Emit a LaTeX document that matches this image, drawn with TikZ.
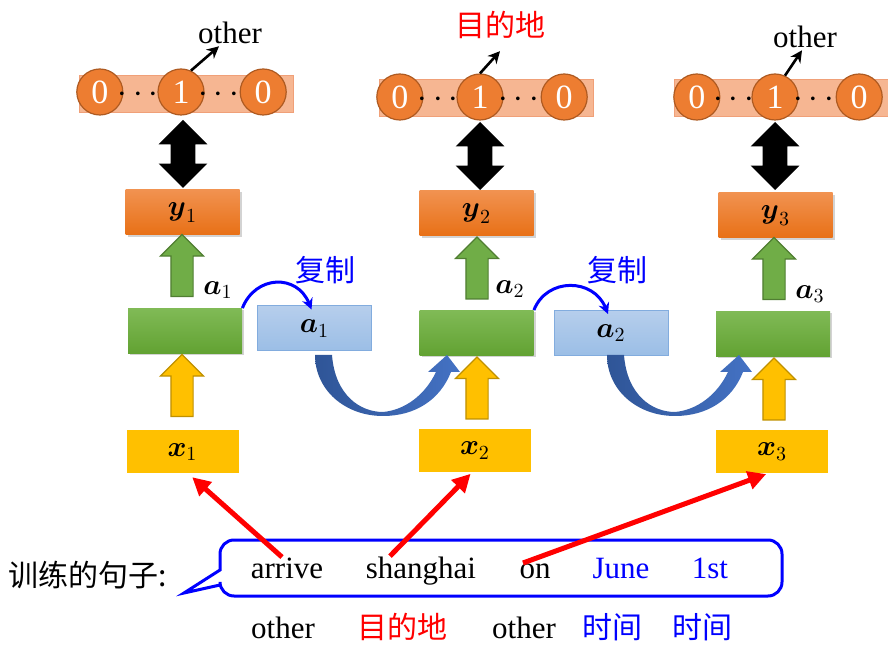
\documentclass[tikz,border=0pt]{standalone}
\usepackage{amsmath}
\usepackage{fontspec}
\setmainfont{Liberation Serif}
\newfontfamily\cjk{Noto Sans CJK SC}
\usepackage{tikz}
\usetikzlibrary{positioning,shapes.arrows,shadows,arrows.meta}

\definecolor{barfill}{RGB}{246,182,146}
\definecolor{barline}{RGB}{240,160,120}
\definecolor{circfill}{RGB}{237,125,49}
\definecolor{circline}{RGB}{174,90,33}
\definecolor{outtop}{RGB}{241,146,80}
\definecolor{outbot}{RGB}{232,112,22}
\definecolor{hidtop}{RGB}{128,186,86}
\definecolor{hidbot}{RGB}{98,162,50}
\definecolor{cptop}{RGB}{182,206,236}
\definecolor{cpbot}{RGB}{155,190,230}
\definecolor{cpline}{RGB}{130,172,222}
\definecolor{infill}{RGB}{255,192,0}
\definecolor{upgreen}{RGB}{112,173,71}
\definecolor{upgreenl}{RGB}{80,126,50}
\definecolor{upyellow}{RGB}{255,192,0}
\definecolor{upyellowl}{RGB}{191,144,0}
\definecolor{curvedark}{RGB}{47,85,151}
\definecolor{curvelight}{RGB}{68,114,196}
\definecolor{wordblue}{RGB}{0,0,255}

\begin{document}
\begin{tikzpicture}[x=0.5pt,y=-0.5pt,
  bar/.style={rectangle, fill=barfill, draw=barline, line width=0.5pt, minimum width=107pt, minimum height=18.5pt, inner sep=0pt},
  onehot/.style={circle, fill=circfill, draw=circline, line width=0.6pt, minimum size=23pt, inner sep=0pt, text=white, font=\fontsize{17}{17}\selectfont},
  dots/.style={inner sep=0pt, font=\fontsize{17.28}{17}\selectfont},
  box/.style={rectangle, minimum width=57pt, minimum height=22.5pt, inner sep=0pt, font=\fontsize{14.4}{15}\selectfont},
  outbox/.style={box, top color=outtop, bottom color=outbot, drop shadow={opacity=0.35, shadow xshift=1pt, shadow yshift=-1pt}},
  hidbox/.style={box, top color=hidtop, bottom color=hidbot, drop shadow={opacity=0.35, shadow xshift=1pt, shadow yshift=-1pt}},
  cpbox/.style={box, top color=cptop, bottom color=cpbot, draw=cpline, line width=0.5pt},
  inbox/.style={box, minimum width=56pt, minimum height=21.5pt, fill=infill},
  uparrow/.style={single arrow, shape border rotate=90, inner sep=5.25pt, single arrow head extend=5.25pt, minimum height=31pt, minimum width=21pt, line width=0.6pt},
  bothway/.style={double arrow, shape border rotate=90, fill=black, inner sep=6pt, double arrow head extend=6pt, minimum height=34pt, minimum width=24pt},
  alabel/.style={inner sep=0pt, font=\fontsize{14.4}{15}\selectfont},
  toplabel/.style={inner sep=1pt, font=\fontsize{15.5}{18}\selectfont},
  word/.style={inner sep=0pt, anchor=base, font=\fontsize{15.5}{18}\selectfont},
  cnword/.style={inner sep=0pt, anchor=base, font=\cjk\fontsize{15}{18}\selectfont},
  pick/.style={-{Stealth[length=6pt,width=6pt]}, line width=1.3pt},
  copyarrow/.style={-{Stealth[length=5.5pt,width=5.5pt]}, wordblue, line width=1.5pt},
  redarrow/.style={-{Triangle[length=9pt,width=9pt]}, red, line width=2.5pt}]
\useasboundingbox (0,0) rectangle (888,651);

% one-hot outputs
\node[bar] (b1) at (186,94.5) {};
\node[bar] (b2) at (486,98.5) {};
\node[bar] (b3) at (781.5,98.5) {};
\node[onehot] (o1) at (181,92) {1};
\node[onehot] (z1) [left=17pt of o1] {0};
\node[onehot] (e1) [right=17.5pt of o1] {0};
\node[onehot] (o2) at (480,97) {1};
\node[onehot] (z2) [left=16.5pt of o2] {0};
\node[onehot] (e2) [right=18.5pt of o2] {0};
\node[onehot] (o3) at (775,97) {1};
\node[onehot] (z3) [left=15.5pt of o3] {0};
\node[onehot] (e3) [right=18.5pt of o3] {0};
\node[dots] (d11) at (141,95) {$\cdots$};
\node[dots] (d12) at (221.5,95) {$\cdots$};
\node[dots] (d21) at (441,100) {$\cdots$};
\node[dots] (d22) at (521.5,100) {$\cdots$};
\node[dots] (d31) at (736.5,100) {$\cdots$};
\node[dots] (d32) at (816.5,100) {$\cdots$};
\node[toplabel] (t1) at (230,33) {other};
\node[toplabel, text=red, font=\cjk\fontsize{15}{18}\selectfont] (t2) at (500,25) {目的地};
\node[toplabel] (t3) at (805,37) {other};
\draw[pick] (o1.65) -- ([xshift=-5.5pt]t1.south);
\draw[pick] (o2.north) -- ([yshift=-5pt]t2.south);
\draw[pick] (o3.65) -- ([xshift=-1.5pt]t3.south);

% boxes
\node[bothway] (k1) at (183,154) {};
\node[bothway] (k2) at (480,156) {};
\node[bothway] (k3) at (775,156) {};
\node[outbox] (y1) at (182.5,212.5) {$\boldsymbol{y}_1$};
\node[outbox] (y2) at (476.5,213.5) {$\boldsymbol{y}_2$};
\node[outbox] (y3) at (775.5,215.5) {$\boldsymbol{y}_3$};
\node[uparrow, fill=upgreen, draw=upgreenl] (g1) at (182,271) {};
\node[uparrow, fill=upgreen, draw=upgreenl] (g2) at (477,273.5) {};
\node[uparrow, fill=upgreen, draw=upgreenl] (g3) at (774,274) {};
\node[alabel] (a1) at (218,290) {$\boldsymbol{a}_1$};
\node[alabel] (a2) at (510,289) {$\boldsymbol{a}_2$};
\node[alabel] (a3) at (810,294) {$\boldsymbol{a}_3$};
\node[hidbox] (h1) at (185,331) {};
\node[hidbox] (h2) at (476.5,333) {};
\node[hidbox] (h3) at (773,334) {};
\node[cpbox] (c1) at (314.5,328.5) {$\boldsymbol{a}_1$};
\node[cpbox] (c2) at (611,333) {$\boldsymbol{a}_2$};
\node[cnword, anchor=center, text=wordblue] (m1) at (325,270) {复制};
\node[cnword, anchor=center, text=wordblue] (m2) at (617,270) {复制};
\draw[copyarrow] (h1.north east) .. controls +(13,-33) and +(-14.5,-36) .. ([xshift=-1.5pt,yshift=-2pt]c1.north);
\draw[copyarrow] (h2.north east) .. controls +(13,-33) and +(-14.5,-36) .. ([xshift=-1.5pt,yshift=-2pt]c2.north);
\node[uparrow, fill=upyellow, draw=upyellowl] (u1) at (182,391) {};
\node[uparrow, fill=upyellow, draw=upyellowl] (u2) at (477,393.5) {};
\node[uparrow, fill=upyellow, draw=upyellowl] (u3) at (774,394.5) {};
\node[inbox] (x1) at (182.5,452) {$\boldsymbol{x}_1$};
\node[inbox] (x2) at (475,450.5) {$\boldsymbol{x}_2$};
\node[inbox] (x3) at (772,451.5) {$\boldsymbol{x}_3$};

% copy back into the next step
\shade[left color=curvedark, right color=curvelight]
  (315,355) -- (332,355) .. controls (335,395) and (360,412) .. (383,412)
  .. controls (405,410) and (425,395) .. (436,372) -- (428,372) -- (447,355)
  -- (460,372) -- (451,372) .. controls (440,400) and (415,416) .. (383,416)
  .. controls (345,416) and (315,390) .. (315,355) -- cycle;
\shade[left color=curvedark, right color=curvelight, shift={(292,0)}]
  (315,355) -- (332,355) .. controls (335,395) and (360,412) .. (383,412)
  .. controls (405,410) and (425,395) .. (436,372) -- (428,372) -- (447,355)
  -- (460,372) -- (451,372) .. controls (440,400) and (415,416) .. (383,416)
  .. controls (345,416) and (315,390) .. (315,355) -- cycle;

% training sentence
\node[cnword] (s) at (88,586) {训练的句子:};
\draw[wordblue, line width=1.5pt, rounded corners=7pt] (184,593) [sharp corners] -- (220,585)
  [rounded corners=7pt] -- (220,596) -- (782,596) -- (782,540) -- (220,540) [sharp corners] -- (220,570) -- cycle;
\node[word] (w1) at (287,578) {arrive};
\node[word] (w2) at (421,578) {shanghai};
\node[word] (w3) at (535,578) {on};
\node[word, text=wordblue] (w4) at (621,578) {June};
\node[word, text=wordblue] (w5) at (710,578) {1st};
\node[word] (l1) at (283,638) {other};
\node[cnword, text=red] (l2) at (402,638) {目的地};
\node[word] (l3) at (524,638) {other};
\node[cnword, text=wordblue] (l4) at (612,638) {时间};
\node[cnword, text=wordblue] (l5) at (702,638) {时间};
\draw[redarrow, shorten >=2.5pt] ([xshift=-2.5pt]w1.north) -- ([xshift=3pt]x1.south);
\draw[redarrow, shorten >=1pt] ([xshift=-15.5pt]w2.north) -- ([xshift=-1.5pt]x2.south);
\draw[redarrow, shorten >=1pt] ([xshift=-6pt]w3.north) -- ([xshift=-2pt]x3.south);
\end{tikzpicture}
\end{document}
